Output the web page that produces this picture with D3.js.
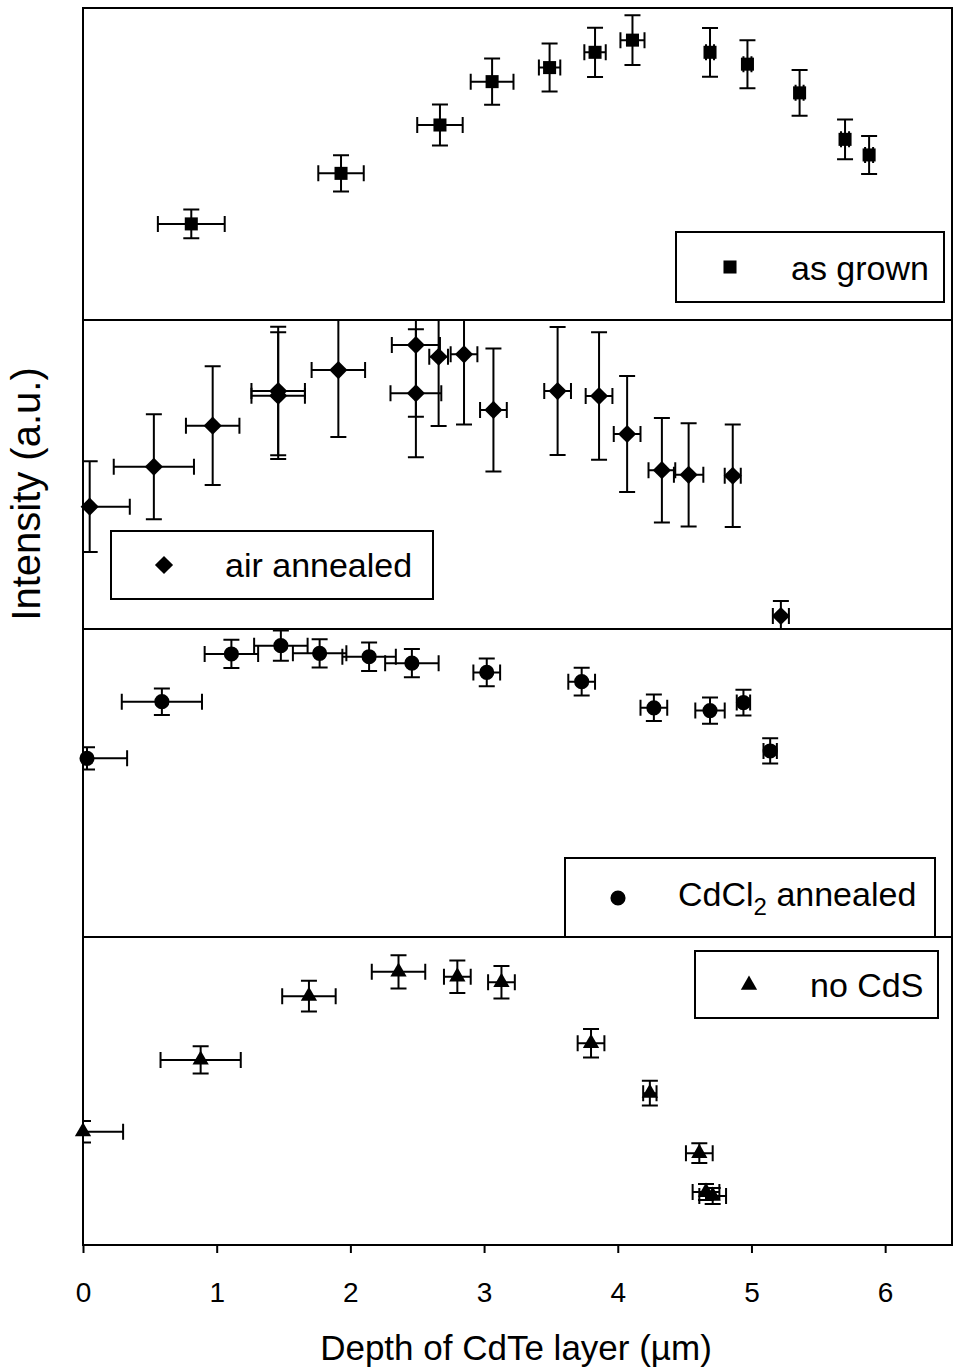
<!DOCTYPE html>
<html>
<head>
<meta charset="utf-8">
<script src="https://cdn.jsdelivr.net/npm/d3@7"></script>
<style>
  body { margin: 0; background: #fff; }
  text { font-family: "Liberation Sans", Arial, Helvetica, sans-serif; fill: #000; }
</style>
</head>
<body>
<div id="chart"></div>
<script>
// depth in µm, intensity in a.u. (each panel scaled 0-100)
const xTicks = [0, 1, 2, 3, 4, 5, 6];
const seriesNames = ['as grown', 'air annealed', 'CdCl2 annealed', 'no CdS'];

const grownX    = [0.81, 1.93, 2.67, 3.06, 3.49, 3.83, 4.11, 4.69, 4.97, 5.36, 5.70, 5.88];
const grownXErr = [0.25, 0.17, 0.17, 0.16, 0.08, 0.08, 0.09, 0.03, 0.03, 0.03, 0.03, 0.03];
const grownY    = [30.8, 47.0, 62.5, 76.4, 80.9, 85.8, 89.7, 85.8, 82.0, 72.8, 57.9, 52.9];
const grownYErr = [4.6, 5.8, 6.6, 7.4, 7.7, 7.9, 8.0, 7.8, 7.7, 7.3, 6.4, 6.1];

const airX    = [0.05, 0.53, 0.97, 1.46, 1.46, 1.91, 2.49, 2.49, 2.66, 2.85, 3.07, 3.55, 3.86, 4.07, 4.33, 4.53, 4.86, 5.22];
const airXErr = [0.30, 0.30, 0.20, 0.20, 0.20, 0.20, 0.18, 0.19, 0.07, 0.10, 0.10, 0.10, 0.10, 0.10, 0.10, 0.11, 0.06, 0.06];
const airY    = [39.6, 52.5, 65.8, 77.0, 75.5, 83.8, 91.9, 76.3, 88.1, 88.9, 70.9, 77.0, 75.4, 63.1, 51.4, 49.9, 49.6, 4.2];
const airYErr = [14.7, 17.0, 19.2, 20.8, 20.5, 21.7, 23.2, 20.7, 22.4, 22.7, 19.9, 20.7, 20.6, 18.8, 16.9, 16.7, 16.6, 4.9];

const cdclX    = [0.03, 0.59, 1.11, 1.48, 1.77, 2.14, 2.46, 3.02, 3.73, 4.27, 4.69, 4.94, 5.14];
const cdclXErr = [0.30, 0.30, 0.20, 0.20, 0.20, 0.20, 0.20, 0.10, 0.10, 0.10, 0.11, 0.05, 0.05];
const cdclY    = [58.0, 76.4, 91.9, 94.6, 92.1, 91.0, 88.9, 85.9, 82.9, 74.4, 73.5, 76.1, 60.4];
const cdclYErr = [3.6, 4.3, 4.6, 4.9, 4.6, 4.6, 4.6, 4.5, 4.5, 4.3, 4.3, 4.2, 4.1];

const noCdsX    = [0.00, 0.88, 1.69, 2.36, 2.80, 3.13, 3.80, 4.24, 4.61, 4.66, 4.71];
const noCdsXErr = [0.30, 0.30, 0.20, 0.20, 0.10, 0.10, 0.10, 0.05, 0.10, 0.10, 0.10];
const noCdsY    = [36.8, 60.1, 80.8, 88.7, 87.1, 85.3, 65.5, 49.3, 29.8, 17.2, 15.9];
const noCdsYErr = [3.5, 4.4, 5.0, 5.4, 5.3, 5.3, 4.6, 4.0, 3.2, 2.6, 2.6];

const zip = (xs, xe, ys, ye) => xs.map((v, i) => ({x: v, xe: xe[i], y: ys[i], ye: ye[i]}));

const series = [
  {name: seriesNames[0], symbol: d3.symbolSquare, size: 170, rot: 0,  pts: zip(grownX, grownXErr, grownY, grownYErr)},
  {name: seriesNames[1], symbol: d3.symbolSquare, size: 165, rot: 45, pts: zip(airX, airXErr, airY, airYErr)},
  {name: seriesNames[2], symbol: d3.symbolCircle, size: 180, rot: 0,  pts: zip(cdclX, cdclXErr, cdclY, cdclYErr)},
  {name: seriesNames[3], symbol: d3.symbolTriangle, size: 115, rot: 0, pts: zip(noCdsX, noCdsXErr, noCdsY, noCdsYErr)}
];

// layout
const W = 955, H = 1367;
const edges = [8, 320, 629, 937, 1245];
const legendBox = [
  {x: 676, y: 232, w: 268, h: 70, mx: 730, my: 267, tx: 791, ty: 280},
  {x: 111, y: 531, w: 322, h: 68, mx: 164, my: 565, tx: 225, ty: 577},
  {x: 565, y: 858, w: 370, h: 79, mx: 618, my: 898, tx: 678, ty: 906},
  {x: 695, y: 951, w: 243, h: 67, mx: 749, my: 985, tx: 810, ty: 997}
];
const cap = 8;

const svg = d3.select('#chart').append('svg')
  .attr('width', W).attr('height', H);

const x = d3.scaleLinear().domain([0, 6.5]).range([83, 952]);

series.forEach((s, i) => {
  const top = edges[i], bottom = edges[i + 1];
  const y = d3.scaleLinear().domain([0, 100]).range([bottom, top]);

  svg.append('clipPath').attr('id', 'clip' + i)
    .append('rect')
    .attr('x', x(0)).attr('y', top)
    .attr('width', x(6.5) - x(0)).attr('height', bottom - top);

  const panel = svg.append('g');

  const bars = panel.append('g')
    .attr('clip-path', `url(#clip${i})`)
    .attr('stroke', '#000')
    .attr('stroke-width', 2)
    .attr('fill', 'none');

  bars.selectAll('.xbar')
    .data(s.pts)
    .join('path')
    .attr('class', 'xbar')
    .attr('d', d => {
      const x0 = x(d.x - d.xe), x1 = x(d.x + d.xe), yy = y(d.y);
      return `M${x0},${yy}H${x1}M${x0},${yy - cap}V${yy + cap}M${x1},${yy - cap}V${yy + cap}`;
    });

  bars.selectAll('.ybar')
    .data(s.pts)
    .join('path')
    .attr('class', 'ybar')
    .attr('d', d => {
      const y0 = y(d.y - d.ye), y1 = y(d.y + d.ye), xx = x(d.x);
      return `M${xx},${y0}V${y1}M${xx - cap},${y0}H${xx + cap}M${xx - cap},${y1}H${xx + cap}`;
    });

  const sym = d3.symbol().type(s.symbol).size(s.size);

  panel.selectAll('.pt')
    .data(s.pts)
    .join('path')
    .attr('class', 'pt')
    .attr('d', sym)
    .attr('fill', '#000')
    .attr('transform', d => `translate(${x(d.x)},${y(d.y)}) rotate(${s.rot})`);

  // frame
  panel.append('rect')
    .attr('x', x(0)).attr('y', top)
    .attr('width', x(6.5) - x(0)).attr('height', bottom - top)
    .attr('fill', 'none').attr('stroke', '#000').attr('stroke-width', 2);

  // legend
  const lb = legendBox[i];
  const lg = svg.append('g');
  lg.append('rect')
    .attr('x', lb.x).attr('y', lb.y).attr('width', lb.w).attr('height', lb.h)
    .attr('fill', '#fff').attr('stroke', '#000').attr('stroke-width', 2);
  lg.append('path')
    .attr('d', sym)
    .attr('transform', `translate(${lb.mx},${lb.my}) rotate(${s.rot})`)
    .attr('fill', '#000');
  const t = lg.append('text')
    .attr('x', lb.tx).attr('y', lb.ty)
    .attr('font-size', 34);
  if (s.name === 'CdCl2 annealed') {
    t.append('tspan').text('CdCl');
    t.append('tspan').attr('font-size', 24).attr('dy', 9).text('2');
    t.append('tspan').attr('dy', -9).text(' annealed');
  } else {
    t.text(s.name);
  }
});

// x axis
const xAxis = d3.axisBottom(x)
  .tickValues(xTicks)
  .tickFormat(d3.format('d'))
  .tickSize(8)
  .tickPadding(29);

svg.append('g')
  .attr('transform', `translate(0,${edges[4]})`)
  .call(xAxis)
  .call(g => g.select('.domain').remove())
  .call(g => g.selectAll('.tick line').attr('stroke', '#000').attr('stroke-width', 2))
  .call(g => g.selectAll('.tick text')
    .attr('font-size', 28)
    .attr('font-family', '"Liberation Sans", Arial, sans-serif')
    .attr('fill', '#000'));

svg.append('text')
  .attr('x', 516)
  .attr('y', 1360)
  .attr('text-anchor', 'middle')
  .attr('font-size', 35)
  .text('Depth of CdTe layer (\u00b5m)');

svg.append('text')
  .attr('transform', 'translate(40,494) rotate(-90)')
  .attr('text-anchor', 'middle')
  .attr('font-size', 40)
  .text('Intensity (a.u.)');
</script>
</body>
</html>
